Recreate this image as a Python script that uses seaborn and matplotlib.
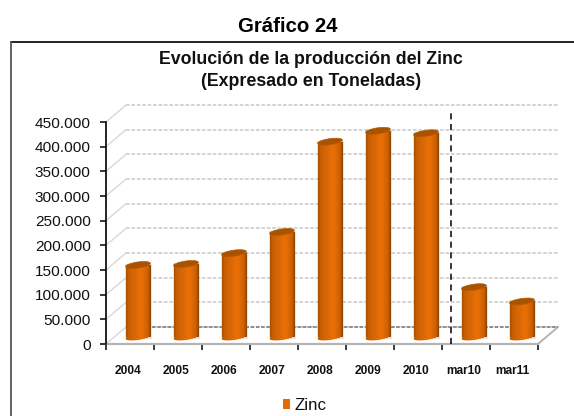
import numpy as np
import pandas as pd
import matplotlib
matplotlib.use("Agg")
import matplotlib.pyplot as plt
import seaborn as sns
from matplotlib.colors import LinearSegmentedColormap
from matplotlib.lines import Line2D
from matplotlib.patches import Ellipse, Rectangle
from matplotlib.transforms import Affine2D

categories = ["2004", "2005", "2006", "2007", "2008", "2009", "2010", "mar10", "mar11"]
zinc = [146000, 148000, 170000, 213000, 396000, 418000, 413000, 101000, 72000]
y_ticks = [0, 50000, 100000, 150000, 200000, 250000, 300000, 350000, 400000, 450000]
y_labels = ["0", "50.000", "100.000", "150.000", "200.000", "250.000",
            "300.000", "350.000", "400.000", "450.000"]

W, H = 574, 416
DEPTH_X, DEPTH_Y = 20, 17     # 3d wall offset, pixels
BAR_X, BAR_Y = 8, 7           # bar offset from front floor, pixels

sns.set_theme(style="white")
plt.rcParams["font.family"] = ["Liberation Sans", "DejaVu Sans"]

fig = plt.figure(figsize=(W / 100, H / 100), dpi=100)
ax = fig.add_axes([106 / W, 1 - 344 / H, 432 / W, 222 / H])

df = pd.DataFrame({"cat": categories, "Zinc": zinc})
sns.barplot(data=df, x="cat", y="Zinc", color="#e36c09", width=0.52, saturation=1,
            label="Zinc", legend=False, ax=ax)
ax.set_xlim(-0.5, 8.5)
ax.set_ylim(0, 450000)
ax.set_xlabel("")
ax.set_ylabel("")
ax.patch.set_alpha(0)

fig.canvas.draw()
back = ax.transData + Affine2D().translate(DEPTH_X, DEPTH_Y)
shift = ax.transData + Affine2D().translate(BAR_X, BAR_Y)

# back wall gridlines and the side wall
for v in y_ticks:
    ax.plot([-0.5, 8.5], [v, v], transform=back, color="#d0d0d0", lw=1.3,
            ls=(0, (2.0, 1.0)), clip_on=False, zorder=1)
    x0, y0 = ax.transData.transform((-0.5, v))
    ax.plot([x0, x0 + DEPTH_X], [y0, y0 + DEPTH_Y], transform=None, color="#d8d8d8",
            lw=1.0, clip_on=False, zorder=1)
ax.plot([-0.5, 8.5], [0, 0], transform=back, color="#777777", lw=1.1,
        ls=(0, (2.3, 1.1)), clip_on=False, zorder=1.1)

# floor
x1, y1 = ax.transData.transform((8.5, 0))
ax.plot([x1, x1 + DEPTH_X], [y1, y1 + DEPTH_Y], transform=None, color="#b4b4b4", lw=1.4,
        clip_on=False, zorder=1)
ax.plot([-0.5, 8.5], [0, 0], color="#b4b4b4", lw=1.6, clip_on=False, zorder=1.5)

# cylinders
cyl = LinearSegmentedColormap.from_list(
    "cyl", [(0, "#a85200"), (0.12, "#cc6004"), (0.62, "#ea7006"), (0.88, "#cc6204"), (1, "#8f4700")])
grad = np.linspace(0, 1, 64).reshape(1, -1)
for bar in list(ax.patches):
    bx, bw, bh = bar.get_x(), bar.get_width(), bar.get_height()
    bar.set_transform(shift)
    bar.set_clip_on(False)
    bar.set_zorder(2)
    bar.set_linewidth(0)
    px0, py0 = shift.transform((bx + bw / 2, 0))
    px1, py1 = shift.transform((bx + bw / 2, bh))
    pw = shift.transform((bx + bw, 0))[0] - shift.transform((bx, 0))[0]

    # soft halo
    halo = Rectangle((bx, 0), bw, bh, transform=shift, fc="none", ec="#8a8a8a", lw=2.2,
                     alpha=0.22, clip_on=False, zorder=1.8)
    ax.add_patch(halo)

    im = ax.imshow(grad, extent=[bx, bx + bw, 0, bh], aspect="auto", cmap=cyl,
                   transform=shift, zorder=2.1, vmin=0, vmax=1)
    im.set_clip_path(bar)
    base = Ellipse((0, 0), pw, 6, angle=8, transform=Affine2D().translate(px0, py0),
                   fc="none", ec="none", zorder=2.1)
    ax.add_patch(base)
    im2 = ax.imshow(grad, extent=[bx, bx + bw, -8000, 8000], aspect="auto", cmap=cyl,
                    transform=shift, zorder=2.1, vmin=0, vmax=1)
    im2.set_clip_path(base)
    cap = Ellipse((0, 0), pw, 6, angle=8, transform=Affine2D().translate(px1, py1),
                  fc="#a85300", ec="#b85a04", lw=0.5, clip_on=False, zorder=2.2)
    ax.add_patch(cap)

ax.set_xlim(-0.5, 8.5)
ax.set_ylim(0, 450000)

# separator between annual and monthly data
sep_x = 6.68
ax.plot([sep_x, sep_x], [0, 475000], color="black", lw=1.1, ls=(0, (4, 3)),
        clip_on=False, zorder=3)

# axes
for name, spine in ax.spines.items():
    spine.set_visible(name == "left")
ax.spines["left"].set_color("black")
ax.spines["left"].set_linewidth(1.2)
ax.set_yticks(y_ticks, y_labels, fontsize=11.1, color="#111111")
ax.tick_params(axis="y", left=True, length=4, width=1.1, color="black", pad=7)
ax.set_xticks(np.arange(-0.5, 9), minor=True)
ax.set_xticks(np.arange(9) - 0.04, categories, fontsize=8.6, fontweight="bold", color="#111111")
ax.tick_params(axis="x", which="major", bottom=False, pad=9)
ax.tick_params(axis="x", which="minor", bottom=True, length=4, width=1.1, color="black")

# legend
ax.legend(handles=[ax.patches[0]], labels=["Zinc"], loc="center left",
          bbox_to_anchor=(283 / W, 1 - 405.5 / H), bbox_transform=fig.transFigure,
          frameon=False, fontsize=12.2, handlelength=0.42, handleheight=0.58,
          handletextpad=0.28, borderpad=0, borderaxespad=0, labelcolor="#111111")

# frame, only top and left sides are visible
fig.add_artist(Line2D([10.5 / W, 1], [1 - 41.7 / H] * 2, color="#111111", lw=1.3))
fig.add_artist(Line2D([10.8 / W] * 2, [0, 1 - 41.7 / H], color="#555555", lw=1.3))
fig.text(288 / W, 1 - 26 / H, "Gráfico 24", ha="center", va="center", fontsize=14.7,
         fontweight="bold", color="black")
fig.text(311 / W, 1 - 70.5 / H, "Evolución de la producción del Zinc\n(Expresado en Toneladas)",
         ha="center", va="center", fontsize=12.8, fontweight="bold", color="#111111",
         linespacing=1.4)

fig.savefig("out.png", dpi=100)
